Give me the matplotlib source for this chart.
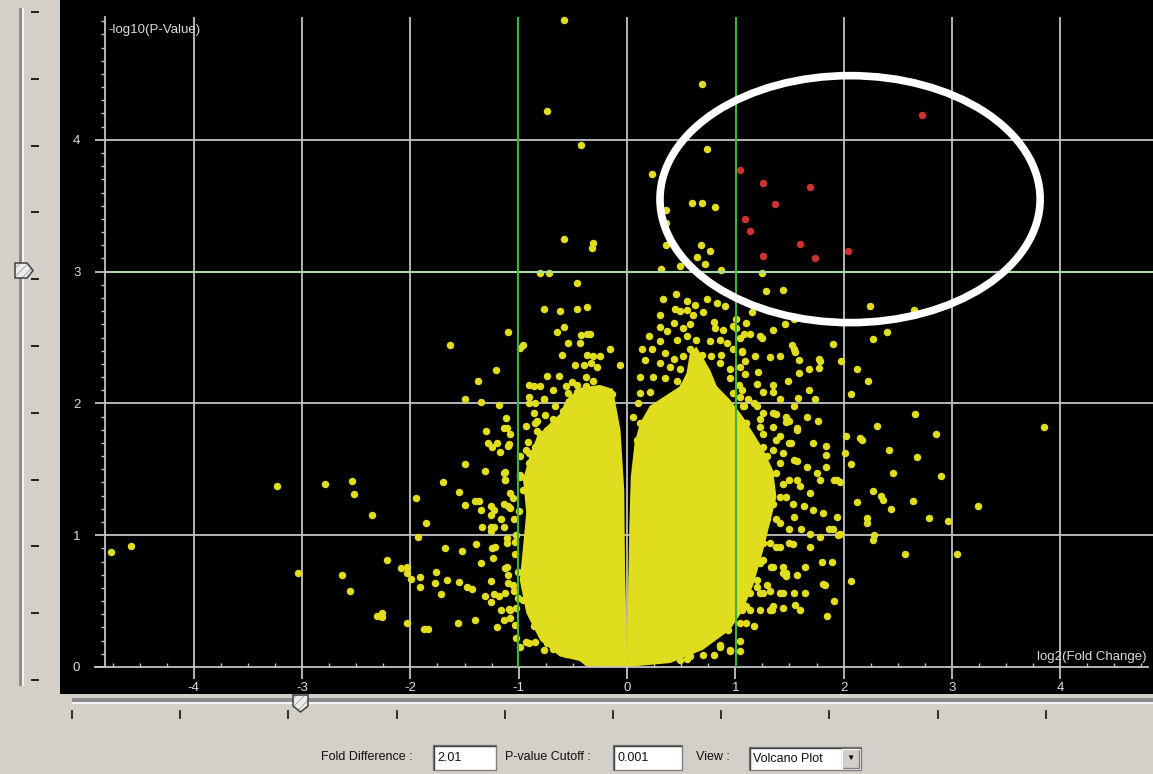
import numpy as np
import matplotlib
matplotlib.use('Agg')
import matplotlib.pyplot as plt
from matplotlib.patches import Ellipse, Polygon, Rectangle

plt.rcParams['font.family'] = ['Liberation Sans', 'DejaVu Sans']
plt.rcParams['axes.unicode_minus'] = False
plt.rcParams['hatch.linewidth'] = 0.6

# cutoffs shown in the controls
fold_diff = 2.01
p_cutoff = 0.001

x_ticks = [-4, -3, -2, -1, 0, 1, 2, 3, 4]
y_ticks = [0, 1, 2, 3, 4]

# dense part of the volcano: outlines of the overlapping-dot mass (log2 FC, -log10 p)
left_halo_x = [-0.003, -0.30, -0.62, -0.80, -0.93, -0.99, -0.96, -0.93, -0.96, -0.90, -0.83, -0.71,
               -0.62, -0.56, -0.43, -0.25, -0.13, -0.06, -0.025, -0.018, -0.006]
left_halo_y = [0.0, 0.02, 0.08, 0.20, 0.41, 0.66, 0.91, 1.17, 1.42, 1.60, 1.75, 1.85,
               1.92, 2.03, 2.12, 2.14, 2.11, 1.80, 1.34, 0.76, 0.30]
right_halo_x = [0.0, 0.40, 0.70, 0.95, 1.07, 1.17, 1.26, 1.32, 1.38, 1.35, 1.26, 1.17, 1.07, 0.95,
                0.83, 0.77, 0.70, 0.64, 0.58, 0.55, 0.49, 0.34, 0.21, 0.12, 0.07, 0.035, 0.022, 0.008]
right_halo_y = [0.0, 0.03, 0.13, 0.28, 0.43, 0.63, 0.89, 1.09, 1.29, 1.49, 1.65, 1.77, 1.90, 2.03,
                2.13, 2.25, 2.35, 2.43, 2.38, 2.23, 2.13, 2.05, 1.98, 1.85, 1.70, 1.44, 1.09, 0.45]
left_core_x = [0.0, -0.37, -0.59, -0.63, -0.67, -0.65, -0.65, -0.61, -0.47, -0.25, -0.10, -0.04,
               -0.022, -0.006]
left_core_y = [0.0, 0.0, 0.15, 0.41, 0.66, 0.91, 1.11, 1.34, 1.47, 1.52, 1.47, 1.34, 0.76, 0.30]
right_core_x = [0.0, 0.30, 0.55, 0.74, 0.86, 0.95, 0.98, 0.98, 0.97, 0.89, 0.80, 0.64, 0.49, 0.34,
                0.21, 0.12, 0.06, 0.026, 0.008]
right_core_y = [0.0, 0.05, 0.18, 0.33, 0.48, 0.63, 0.84, 1.09, 1.34, 1.49, 1.60, 1.67, 1.70, 1.67,
                1.57, 1.42, 1.24, 0.96, 0.45]

# individual genes outside the dense mass (not significant)
genes_left = [
    (-4.76, 0.87), (-4.58, 0.92), (-3.23, 1.37), (-3.04, 0.71), (-2.79, 1.39), (-2.54, 1.41),
    (-2.52, 1.31), (-2.63, 0.70), (-2.56, 0.58), (-2.35, 1.15), (-2.31, 0.39), (-2.26, 0.41),
    (-2.26, 0.38), (-2.22, 0.81), (-2.09, 0.75), (-2.03, 0.76), (-2.03, 0.71), (-1.99, 0.67),
    (-2.03, 0.33), (-1.95, 1.28), (-1.93, 0.99), (-1.91, 0.68), (-1.91, 0.61), (-1.86, 1.09),
    (-1.87, 0.29), (-1.84, 0.29), (-1.76, 0.72), (-1.77, 0.635), (-1.72, 0.55), (-1.70, 1.40),
    (-1.68, 0.90), (-1.66, 0.66), (-1.63, 2.44), (-1.56, 0.33), (-1.55, 1.33), (-1.55, 0.645),
    (-1.52, 0.88), (-1.50, 2.03), (-1.50, 1.54), (-1.50, 1.23), (-1.48, 0.61), (-1.43, 0.59),
    (-1.40, 0.36), (-1.40, 1.26), (-1.37, 1.26), (-1.38, 2.17), (-1.39, 0.93), (-1.35, 2.01),
    (-1.34, 1.06), (-1.35, 0.79), (-1.35, 1.19), (-1.31, 1.49), (-1.30, 1.79), (-1.31, 0.54),
    (-1.28, 1.70), (-1.25, 1.67), (-1.26, 1.22), (-1.26, 1.15), (-1.26, 1.06), (-1.26, 1.03),
    (-1.26, 0.655), (-1.26, 0.49), (-1.23, 0.55), (-1.24, 0.83), (-1.25, 0.90), (-1.22, 0.91),
    (-1.23, 1.06), (-1.23, 1.19), (-1.21, 2.25), (-1.20, 0.30), (-1.20, 1.70), (-1.18, 1.99),
    (-1.18, 0.54), (-1.17, 1.63), (-1.16, 1.12), (-1.16, 0.43), (-1.14, 1.81), (-1.14, 1.24),
    (-1.13, 1.48), (-1.13, 1.42), (-1.12, 1.89), (-1.13, 0.75), (-1.11, 0.98), (-1.11, 0.94),
    (-1.10, 2.54), (-1.10, 0.635), (-1.09, 1.69), (-1.08, 1.77), (-1.09, 0.44), (-1.08, 0.37),
    (-1.08, 1.21), (-1.10, 0.70), (-1.08, 1.32), (-1.05, 1.28), (-1.03, 0.32), (-1.02, 0.45),
    (-1.04, 0.58), (-1.01, 0.72), (-1.03, 0.86), (-1.02, 1.00), (-1.04, 1.12), (-1.00, 1.18),
    (-1.03, 0.95), (-1.01, 0.52), (-1.05, 0.62), (-1.02, 0.22),
    (-1.11, 1.81), (-1.10, 1.68), (-1.14, 1.47), (-1.13, 1.42), (-1.10, 1.22), (-1.14, 1.06),
    (-1.11, 0.76), (-1.13, 0.56), (-1.08, 0.43), (-1.14, 0.36), (-0.99, 1.44), (-0.96, 1.34),
    (-0.93, 1.65), (-0.90, 1.55), (-0.83, 1.87), (-0.80, 1.77), (-0.90, 2.00), (-0.77, 2.03),
    (-0.86, 2.13), (-0.68, 2.10), (-0.99, 0.15), (-0.90, 0.18), (-0.77, 0.13), (-0.86, 0.31),
    (-0.96, 0.51), (-0.83, 0.66), (-0.86, 0.86), (-0.80, 1.06), (-0.90, 1.22), (-0.77, 1.27),
    (-0.65, 2.54), (-0.42, 2.52), (-0.37, 2.53), (-0.34, 2.53), (-0.54, 2.46), (-0.43, 2.46),
    (-0.99, 2.42), (-0.96, 2.44), (-0.60, 2.37), (-0.37, 2.37), (-0.31, 2.36), (-0.25, 2.36),
    (-0.16, 2.41), (-0.48, 2.29), (-0.40, 2.29), (-0.33, 2.31), (-0.28, 2.28), (-0.06, 2.29),
    (-0.74, 2.21), (-0.63, 2.21), (-0.90, 2.14), (-0.80, 2.13), (-0.56, 2.13), (-0.51, 2.16),
    (-0.46, 2.14), (-0.38, 2.20), (-0.31, 2.17), (-0.38, 2.13), (-0.54, 2.08), (-0.46, 2.09),
    (-0.37, 2.10), (-0.28, 2.08), (-0.22, 2.09), (-0.14, 2.07), (-0.90, 2.05), (-0.77, 2.03),
    (-0.85, 2.00), (-0.66, 1.98), (-0.59, 1.94), (-0.86, 1.93), (-0.76, 1.91), (-0.68, 1.88),
    (-0.85, 1.85), (-0.93, 1.83), (-0.83, 1.79), (-0.74, 1.80), (-0.91, 1.71), (-0.85, 1.67),
    (-0.99, 1.60), (-0.90, 1.62), (-0.99, 1.46), (-0.93, 0.19), (-0.85, 0.19), (-0.74, 0.18),
    (-0.68, 0.14), (-0.56, 0.10),
]
genes_top = [
    (-0.58, 4.91), (0.69, 4.42), (-0.74, 4.22), (-0.42, 3.96), (0.74, 3.93), (0.23, 3.74),
    (0.60, 3.52), (0.69, 3.52), (0.81, 3.49), (0.36, 3.47), (0.36, 3.37), (-0.58, 3.25),
    (-0.31, 3.22), (-0.32, 3.18), (0.68, 3.20), (0.77, 3.16), (0.36, 3.20), (0.65, 3.11),
    (0.72, 3.06), (0.49, 3.045), (0.31, 3.02), (0.87, 3.01), (-0.80, 2.99), (-0.72, 2.99),
    (1.25, 2.99), (-0.46, 2.91), (1.28, 2.85), (1.44, 2.86), (-0.77, 2.72), (-0.62, 2.70),
    (-0.46, 2.72), (-0.37, 2.73), (-0.58, 2.58), (2.24, 2.74), (1.15, 2.69), (1.10, 2.61),
    (1.46, 2.60),
    (0.335, 2.79), (0.45, 2.83), (0.55, 2.78), (0.63, 2.75), (0.735, 2.79), (0.83, 2.76),
    (0.905, 2.74), (0.305, 2.67), (0.44, 2.72), (0.49, 2.70), (0.55, 2.71), (0.305, 2.58),
    (0.37, 2.55), (0.43, 2.61), (0.52, 2.57), (0.58, 2.60), (0.61, 2.67), (0.705, 2.69),
    (0.80, 2.62), (0.81, 2.57), (0.89, 2.56), (0.98, 2.59), (0.20, 2.51), (0.305, 2.47),
    (0.46, 2.48), (0.55, 2.51), (0.64, 2.48), (0.77, 2.47), (0.86, 2.48), (0.92, 2.46),
    (1.04, 2.50), (0.135, 2.41), (0.23, 2.41), (0.35, 2.38), (0.43, 2.34), (0.52, 2.36),
    (0.58, 2.41), (0.69, 2.37), (0.78, 2.36), (0.87, 2.37), (0.98, 2.41), (1.06, 2.40),
    (0.17, 2.33), (0.305, 2.31), (0.40, 2.28), (0.49, 2.26), (0.61, 2.31), (0.69, 2.28),
    (0.86, 2.31), (0.95, 2.26), (1.04, 2.28), (0.12, 2.20), (0.24, 2.20), (0.35, 2.19),
    (0.46, 2.17), (0.52, 2.13), (0.95, 2.19), (1.03, 2.14), (0.12, 2.08), (0.21, 2.09),
    (0.98, 2.08), (1.04, 2.05), (1.12, 2.03), (0.10, 2.00), (0.06, 1.90), (0.12, 1.85),
    (0.09, 1.72),
]
genes_right = [
    (2.65, 2.71), (2.40, 2.54), (2.27, 2.49), (1.90, 2.45), (1.98, 2.32), (2.12, 2.26),
    (2.23, 2.17), (2.07, 2.07), (2.66, 1.92), (2.31, 1.83), (3.85, 1.82), (2.85, 1.77),
    (2.02, 1.755), (2.15, 1.74), (2.17, 1.72), (2.42, 1.65), (2.68, 1.59), (2.01, 1.62),
    (2.07, 1.54), (2.46, 1.47), (2.90, 1.45), (2.27, 1.335), (2.35, 1.30), (2.36, 1.27),
    (2.12, 1.25), (2.64, 1.26), (3.24, 1.22), (2.44, 1.20), (2.22, 1.13), (2.22, 1.095),
    (2.79, 1.13), (2.96, 1.11), (2.28, 1.005), (2.27, 0.965), (2.57, 0.86), (3.05, 0.86),
    (2.07, 0.65), (1.85, 0.39), (1.91, 0.50), (1.94, 1.42), (1.91, 1.42), (1.97, 1.40),
    (1.95, 1.00), (1.90, 1.05), (1.84, 1.68), (1.84, 1.61), (1.80, 0.80), (1.89, 0.80),
    (1.81, 0.63), (1.83, 0.62), (1.77, 2.34), (1.77, 2.27), (1.68, 2.26), (1.68, 2.10),
    (1.66, 1.90), (1.76, 1.87), (1.72, 1.70), (1.69, 0.91), (1.64, 0.56), (1.60, 0.43),
    (1.55, 0.47), (1.54, 0.56), (1.44, 0.445), (1.34, 0.43), (1.10, 0.33), (1.04, 0.12),
    (1.14, 0.43), (1.06, 0.43), (1.64, 0.76), (1.61, 1.045), (1.54, 2.41), (1.59, 2.33),
    (1.59, 2.23), (1.49, 2.17), (1.41, 2.36), (1.35, 2.56),
    (1.23, 2.51), (1.54, 2.64), (1.01, 2.64), (1.01, 2.57), (1.08, 2.53), (1.14, 2.53),
    (1.25, 2.50), (1.06, 2.39), (1.09, 2.32), (1.18, 2.36), (1.32, 2.35), (1.52, 2.44),
    (1.55, 2.39), (1.78, 2.32), (1.09, 2.22), (1.21, 2.24), (1.35, 2.14), (1.06, 2.10),
    (1.20, 2.15), (1.26, 2.09), (1.35, 2.09), (1.41, 2.03), (1.58, 2.04), (1.74, 2.03),
    (1.08, 1.98), (1.20, 1.98), (1.26, 1.93), (1.38, 1.92), (1.50, 1.87), (1.10, 1.85),
    (1.23, 1.82), (1.35, 1.82), (1.47, 1.86), (1.57, 1.81), (1.41, 1.75), (1.51, 1.70),
    (1.26, 1.67), (1.35, 1.65), (1.44, 1.62), (1.57, 1.56), (1.66, 1.52), (1.75, 1.47),
    (1.84, 1.52), (1.38, 1.47), (1.50, 1.42), (1.60, 1.37), (1.69, 1.32), (1.78, 1.42),
    (1.41, 1.29), (1.53, 1.24), (1.63, 1.22), (1.72, 1.19), (1.81, 1.17), (1.94, 1.14),
    (1.38, 1.12), (1.50, 1.05), (1.69, 1.01), (1.78, 0.99), (1.87, 1.05), (1.97, 1.01),
    (1.32, 0.94), (1.41, 0.91), (1.53, 0.93), (1.26, 0.81), (1.33, 0.76), (1.44, 0.76),
    (1.57, 0.70), (1.20, 0.66), (1.29, 0.62), (1.44, 0.71), (1.14, 0.56), (1.26, 0.56),
    (0.935, 0.28), (0.95, 0.12), (0.86, 0.15), (0.80, 0.09), (0.58, 0.08), (0.49, 0.05),
    (1.32, 0.43), (1.23, 0.56), (1.41, 0.56), (1.47, 0.69),
    (1.07, 1.98), (1.17, 2.00), (1.10, 1.85), (1.23, 1.88), (1.35, 1.93), (1.47, 1.90),
    (1.54, 1.98), (1.15, 1.72), (1.26, 1.77), (1.38, 1.72), (1.50, 1.70), (1.57, 1.80),
    (1.04, 1.60), (1.17, 1.57), (1.29, 1.60), (1.41, 1.55), (1.54, 1.57), (1.07, 1.45),
    (1.20, 1.42), (1.32, 1.45), (1.44, 1.39), (1.57, 1.42), (1.10, 1.29), (1.23, 1.27),
    (1.35, 1.24), (1.47, 1.29), (1.17, 1.14), (1.29, 1.12), (1.41, 1.09), (1.54, 1.14),
    (1.14, 0.99), (1.26, 0.94), (1.38, 0.91), (1.50, 0.94), (1.10, 0.84), (1.23, 0.79),
    (1.35, 0.76), (1.47, 0.71), (1.07, 0.66), (1.20, 0.61), (1.32, 0.58), (1.44, 0.56),
    (1.10, 0.46), (1.23, 0.43), (1.35, 0.46), (1.04, 0.33), (1.17, 0.31), (0.95, 0.13),
    (1.04, 0.20), (0.86, 0.17), (0.70, 0.09), (0.55, 0.06),
]
# significant genes (fold > 2.01 and p < 0.001)
genes_sig = [
    (1.04, 3.77), (1.26, 3.67), (1.69, 3.64), (1.37, 3.51), (1.09, 3.40), (1.14, 3.31),
    (1.60, 3.21), (2.04, 3.16), (1.26, 3.12), (1.74, 3.10), (2.72, 4.19),
]

YEL = '#e0dc1e'
RED = '#cc3030'
GRID = '#c4c4c4'
TXT = '#dcdcdc'
W, H = 1153, 774

fig = plt.figure(figsize=(W / 100, H / 100), dpi=100, facecolor='#d4d0c8')


def box(x0, y0, x1, y1):
    return [x0 / W, 1 - y1 / H, (x1 - x0) / W, (y1 - y0) / H]


ax = fig.add_axes(box(60, 0, 1153, 694), facecolor='black')
ax.set_xlim(-5.235, 4.857)
ax.set_ylim(-0.205, 5.061)

ax.spines[['top', 'right']].set_visible(False)
ax.spines['left'].set_position(('data', -4.82))
ax.spines['left'].set_bounds(0, 4.93)
ax.spines['bottom'].set_position(('data', 0))
ax.spines['bottom'].set_bounds(-4.91, 4.81)
for s in ['left', 'bottom']:
    ax.spines[s].set_color(GRID)
    ax.spines[s].set_linewidth(1.3)

ax.set_xticks(x_ticks)
ax.set_xticks(np.arange(-4.75, 4.8, 0.25), minor=True)
ax.set_yticks(y_ticks)
ax.set_yticks(np.arange(0.1, 4.95, 0.1), minor=True)
ax.tick_params(axis='x', which='major', direction='out', length=8.6, width=1.3, color=GRID,
               labelcolor=TXT, labelsize=9.5, pad=2.5)
ax.tick_params(axis='x', which='minor', direction='in', length=3, width=1, color=GRID)
ax.tick_params(axis='y', which='major', direction='out', length=7.2, width=1.3, color=GRID,
               labelcolor=TXT, labelsize=9.5, pad=10.5)
ax.tick_params(axis='y', which='minor', direction='out', length=3, width=1, color=GRID)

fc_line = np.log2(fold_diff)
p_line = -np.log10(p_cutoff)
grey_x = [t for t in x_ticks if abs(t) != 1]
ax.vlines(grey_x, 0, 4.93, colors=GRID, lw=1.3, zorder=1)
ax.hlines([t for t in y_ticks if t not in (0, 3)], -4.82, 4.857, colors=GRID, lw=1.3, zorder=1)
ax.hlines(p_line, -4.82, 4.857, colors='#a8dca8', lw=1.5, zorder=4)
ax.vlines([-fc_line, fc_line], 0, 4.93, colors='#3cb43c', lw=1.5, zorder=4)

# the dense mass of the volcano
for px_, py_ in [(left_halo_x, left_halo_y), (right_halo_x, right_halo_y),
                 (left_core_x, left_core_y), (right_core_x, right_core_y)]:
    ax.fill(px_, py_, color=YEL, lw=0, zorder=2)

pts = np.array(genes_left + genes_top + genes_right)
ax.scatter(pts[:, 0], pts[:, 1], s=29, c=YEL, linewidths=0, zorder=3)
sig = np.array(genes_sig)
ax.scatter(sig[:, 0], sig[:, 1], s=29, c=RED, linewidths=0, zorder=3)

ax.add_patch(Ellipse((2.06, 3.55), 3.51, 1.874, fill=False, ec='white', lw=5.5, zorder=6))

ax.text(-4.79, 4.83, '-log10(P-Value)', color=TXT, fontsize=9.5, va='center', ha='left')
ax.text(4.80, 0.076, 'log2(Fold Change)', color=TXT, fontsize=9.5, va='center', ha='right')

# GUI parts around the plot, in pixel coords
ov = fig.add_axes([0, 0, 1, 1])
ov.set_xlim(0, W)
ov.set_ylim(H, 0)
ov.axis('off')
ov.patch.set_alpha(0)


def thumb(pts_):
    ov.add_patch(Polygon(pts_, closed=True, fc='#ececec', ec='#a0a0a0', hatch='////', lw=0))
    ov.add_patch(Polygon(pts_, closed=True, fill=False, ec='#404040', lw=1.1))


# left slider
ov.add_patch(Rectangle((19, 8), 3, 678, fc='#8c8c8c', lw=0))
ov.add_patch(Rectangle((22, 8), 2, 678, fc='#f4f4f4', lw=0))
for ty in np.linspace(12, 680, 11):
    ov.plot([32, 38], [ty, ty], color='#202020', lw=1.4)
thumb([(15, 263), (27, 263), (33, 270.5), (27, 278), (15, 278)])

# bottom slider
ov.add_patch(Rectangle((72, 698), 1081, 4, fc='#8c8c8c', lw=0))
ov.add_patch(Rectangle((72, 702), 1081, 2, fc='#f4f4f4', lw=0))
for k in range(10):
    tx = 72 + 108.2 * k
    ov.plot([tx, tx], [711, 718], color='#202020', lw=1.3)
thumb([(293, 695), (308, 695), (308, 706), (300.5, 712), (293, 706)])


def field(x0, y0, x1, y1, txt):
    ov.add_patch(Rectangle((x0, y0), x1 - x0, y1 - y0, fc='white', ec='#808080', lw=1))
    ov.plot([x0 + 1, x1 - 1], [y0 + 1, y0 + 1], color='#404040', lw=1)
    ov.plot([x0 + 1, x0 + 1], [y0 + 1, y1 - 1], color='#404040', lw=1)
    ov.text(x0 + 4, (y0 + y1) / 2 + 0.5, txt, fontsize=9, va='center', ha='left', color='#101010')


lab = dict(fontsize=9, va='center', ha='left', color='#101010')
ov.text(321, 757.5, 'Fold Difference :', **lab)
field(433, 745, 496, 770, f'{fold_diff:.2f}')
ov.text(505, 757.5, 'P-value Cutoff :', **lab)
field(613, 745, 682, 770, f'{p_cutoff:.3f}')
ov.text(696, 757.5, 'View :', **lab)
field(749, 747, 861, 770, 'Volcano Plot')
ov.add_patch(Rectangle((842, 749), 17, 19, fc='#d4d0c8', ec='#808080', lw=1))
ov.plot([842, 859], [749, 749], color='white', lw=1)
ov.plot([842, 842], [749, 768], color='white', lw=1)
ov.text(850.5, 758.5, '\u25bc', fontsize=6, va='center', ha='center', color='black')

fig.savefig('out.png', dpi=100, facecolor=fig.get_facecolor())
